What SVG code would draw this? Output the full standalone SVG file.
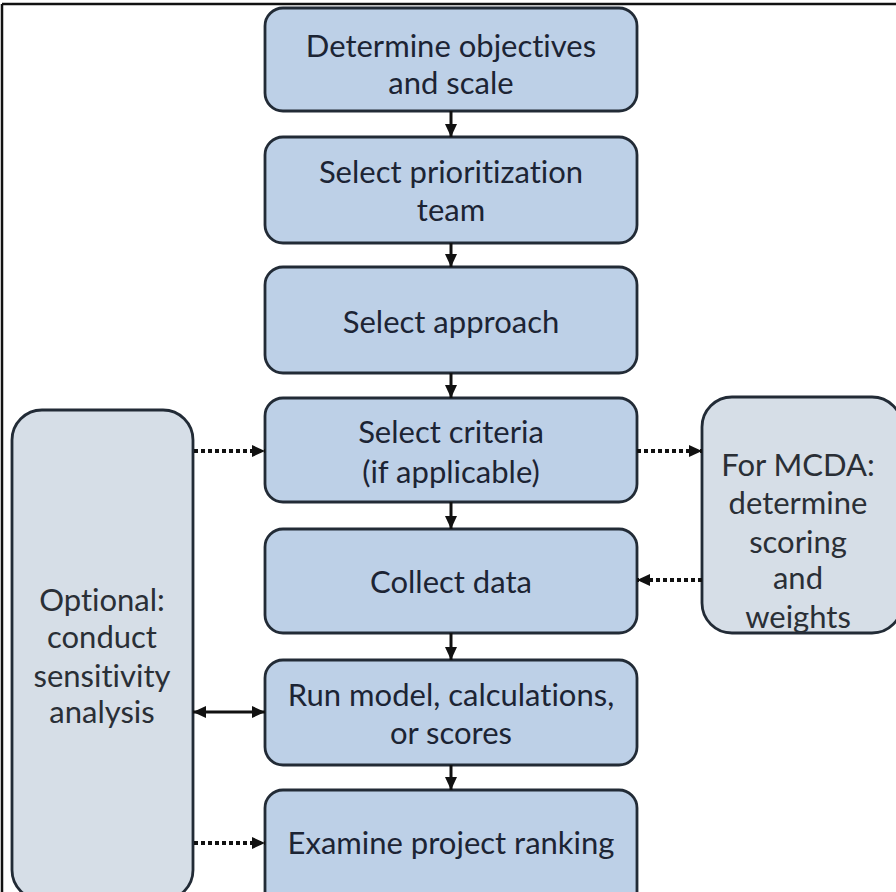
<svg xmlns="http://www.w3.org/2000/svg" width="896" height="892" viewBox="0 0 896 892">
<defs>
<style>
.step{fill:#bdd0e7;stroke:#222b36;stroke-width:2.8}
.side{fill:#d6dee7;stroke:#222b36;stroke-width:2.8}
.t{font-family:Lato,"Open Sans","Liberation Sans",sans-serif;font-size:31px;fill:#1c2434;text-anchor:middle;font-variant-ligatures:none}
.ts{font-family:Lato,"Open Sans","Liberation Sans",sans-serif;font-size:31px;fill:#2a2f36;text-anchor:middle;font-variant-ligatures:none}
.c{stroke:#111;stroke-width:3;fill:none}
.d{stroke:#111;stroke-width:4;fill:none;stroke-dasharray:4 3}
</style>
<marker id="ah" viewBox="0 0 13 12" refX="13" refY="6" markerWidth="13" markerHeight="12" markerUnits="userSpaceOnUse" orient="auto-start-reverse">
<path d="M0,0 L13,6 L0,12 Z" fill="#111"/>
</marker>
</defs>
<rect x="0" y="0" width="896" height="892" fill="#fff"/>
<line x1="2" y1="4" x2="896" y2="4" stroke="#111" stroke-width="2.5"/>
<line x1="2" y1="4" x2="2" y2="892" stroke="#111" stroke-width="2.5"/>

<g id="n1"><rect class="step" x="265" y="8" width="372" height="103" rx="18"/>
<text class="t" x="451" y="57">Determine objectives</text><text class="t" x="451" y="94">and scale</text></g>
<g id="n2"><rect class="step" x="265" y="137" width="372" height="106" rx="18"/>
<text class="t" x="451" y="183">Select prioritization</text><text class="t" x="451" y="221">team</text></g>
<g id="n3"><rect class="step" x="265" y="267" width="372" height="106" rx="18"/>
<text class="t" x="451" y="333">Select approach</text></g>
<g id="n4"><rect class="step" x="265" y="398" width="372" height="104" rx="18"/>
<text class="t" x="451" y="443">Select criteria</text><text class="t" x="451" y="483">(if applicable)</text></g>
<g id="n5"><rect class="step" x="265" y="529" width="372" height="104" rx="18"/>
<text class="t" x="451" y="593">Collect data</text></g>
<g id="n6"><rect class="step" x="265" y="660" width="372" height="105" rx="18"/>
<text class="t" x="451" y="706">Run model, calculations,</text><text class="t" x="451" y="744">or scores</text></g>
<g id="n7"><rect class="step" x="265" y="790" width="372" height="120" rx="18"/>
<text class="t" x="451" y="854">Examine project ranking</text></g>
<g id="left"><rect class="side" x="12" y="410" width="181" height="490" rx="30"/>
<text class="ts" x="102" y="611">Optional:</text><text class="ts" x="102" y="648">conduct</text><text class="ts" x="102" y="687">sensitivity</text><text class="ts" x="102" y="723">analysis</text></g>
<g id="right"><rect class="side" x="702" y="397" width="200" height="236" rx="30"/>
<text class="ts" x="798" y="476">For MCDA:</text><text class="ts" x="798" y="514">determine</text><text class="ts" x="798" y="553">scoring</text><text class="ts" x="798" y="589">and</text><text class="ts" x="798" y="628">weights</text></g>

<g id="connectors">
<line class="c" x1="451" y1="111" x2="451" y2="137" marker-end="url(#ah)"/>
<line class="c" x1="451" y1="243" x2="451" y2="267" marker-end="url(#ah)"/>
<line class="c" x1="451" y1="373" x2="451" y2="398" marker-end="url(#ah)"/>
<line class="c" x1="451" y1="502" x2="451" y2="529" marker-end="url(#ah)"/>
<line class="c" x1="451" y1="633" x2="451" y2="660" marker-end="url(#ah)"/>
<line class="c" x1="451" y1="765" x2="451" y2="790" marker-end="url(#ah)"/>
<line class="d" x1="194" y1="451" x2="265" y2="451" marker-end="url(#ah)"/>
<line class="d" x1="637" y1="451" x2="702" y2="451" marker-end="url(#ah)"/>
<line class="d" x1="702" y1="580" x2="637" y2="580" marker-end="url(#ah)"/>
<line class="c" x1="193" y1="712" x2="265" y2="712" marker-start="url(#ah)" marker-end="url(#ah)"/>
<line class="d" x1="194" y1="843" x2="265" y2="843" marker-end="url(#ah)"/>
</g>
</svg>
